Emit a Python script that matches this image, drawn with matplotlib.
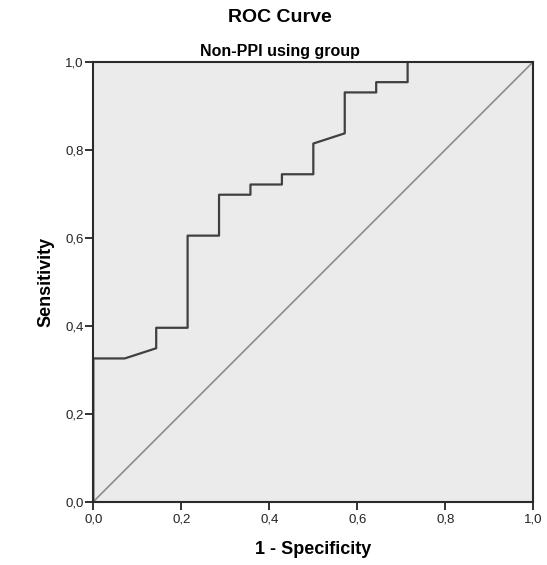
import numpy as np
import matplotlib.pyplot as plt

# ROC curve points (1 - specificity, sensitivity)
fpr = [0.0, 0.0, 0.0714, 0.1429, 0.1429, 0.2143, 0.2143, 0.2857, 0.2857, 0.3571,
       0.3571, 0.4286, 0.4286, 0.5, 0.5, 0.5714, 0.5714, 0.6429, 0.6429, 0.7143,
       0.7143, 1.0]
tpr = [0.0, 0.3256, 0.3256, 0.3488, 0.3953, 0.3953, 0.6047, 0.6047, 0.6977, 0.6977,
       0.7209, 0.7209, 0.7442, 0.7442, 0.8140, 0.8372, 0.9302, 0.9302, 0.9535, 0.9535,
       1.0, 1.0]
ref_line = [0.0, 1.0]
ticks = [0.0, 0.2, 0.4, 0.6, 0.8, 1.0]
tick_labels = ["0,0", "0,2", "0,4", "0,6", "0,8", "1,0"]

plt.rcParams['font.family'] = ['Liberation Sans', 'DejaVu Sans']

fig = plt.figure(figsize=(5.47, 5.65), dpi=100)
ax = fig.add_axes([0.1706, 0.112, 0.8044, 0.7788])
ax.set_facecolor("#ebebeb")

ax.plot(ref_line, ref_line, color="#8c8c8c", lw=1.2)
ax.plot(fpr, tpr, color="#404040", lw=1.6)

ax.set_xlim(0, 1)
ax.set_ylim(0, 1)
ax.set_xticks(ticks)
ax.set_xticklabels(tick_labels)
ax.set_yticks(ticks)
ax.set_yticklabels(tick_labels)
ax.tick_params(direction="out", length=5.5, width=1.3, colors="#222222",
               labelsize=9.5, labelcolor="#222222", pad=1.5)
ax.tick_params(axis="x", pad=3)
for s in ax.spines.values():
    s.set_color("#2b2b2b")
    s.set_linewidth(1.5)

ax.set_xlabel("1 - Specificity", fontsize=13, fontweight="bold", labelpad=11)
ax.set_ylabel("Sensitivity", fontsize=13, fontweight="bold", labelpad=8)
fig.text(0.512, 0.909, "Non-PPI using group", ha="center", va="center",
         fontsize=11.5, fontweight="bold")
fig.text(0.512, 0.969, "ROC Curve", ha="center", va="center", fontsize=14, fontweight="bold")

fig.savefig("out.png", dpi=100)
